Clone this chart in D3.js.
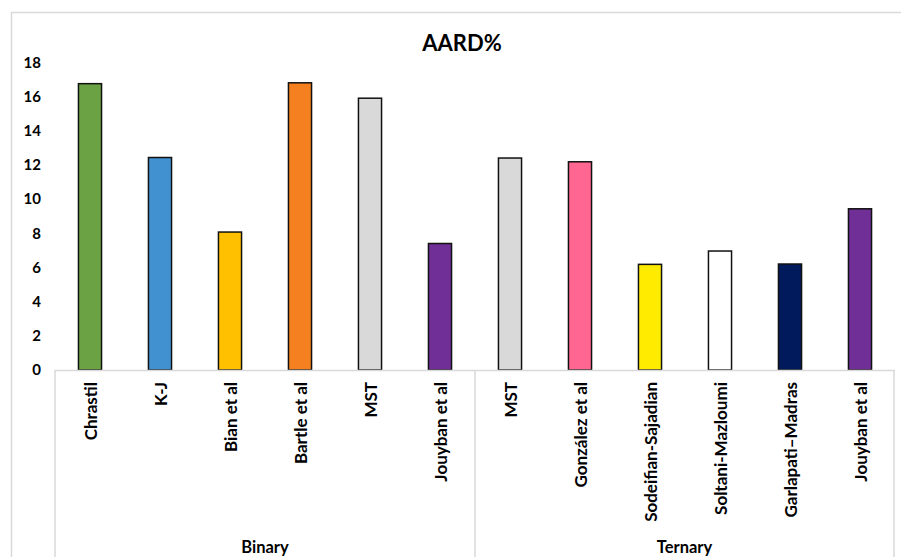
<!DOCTYPE html>
<html>
<head>
<meta charset="utf-8">
<script src="https://cdn.jsdelivr.net/npm/d3@7"></script>
<style>
  html, body { margin: 0; padding: 0; background: #fff; }
  svg { display: block; font-family: Lato, "Open Sans", sans-serif; }
</style>
</head>
<body>
<svg id="chart" width="901" height="557"></svg>
<script>
// AARD% of each correlation model, grouped by system type
const categories = ["Chrastil", "K-J", "Bian et al", "Bartle et al", "MST", "Jouyban et al",
                    "MST", "González et al", "Sodeifian-Sajadian", "Soltani-Mazloumi", "Garlapati–Madras", "Jouyban et al"];
const groups = ["Binary", "Binary", "Binary", "Binary", "Binary", "Binary",
                "Ternary", "Ternary", "Ternary", "Ternary", "Ternary", "Ternary"];
const aard = [16.75, 12.43, 8.07, 16.8, 15.9, 7.4,
              12.4, 12.18, 6.18, 6.96, 6.2, 9.43];
const barColors = ["#6aa244", "#4191d0", "#ffc000", "#f58020", "#d9d9d9", "#702f96",
                   "#d9d9d9", "#ff6792", "#ffeb00", "#ffffff", "#001a5c", "#702f96"];
const yTicks = [0, 2, 4, 6, 8, 10, 12, 14, 16, 18];

const svg = d3.select("#chart");
const plotLeft = 55, plotRight = 895, plotTop = 62.3, plotBottom = 370;

const idx = d3.range(categories.length);
const x = d3.scaleBand().domain(idx).range([plotLeft, plotRight]).paddingInner(0.67).paddingOuter(0.335);
const y = d3.scaleLinear().domain([0, 18]).range([plotBottom, plotTop]);

// outer chart frame
svg.append("rect")
  .attr("x", 11.5).attr("y", 12.5).attr("width", 960).attr("height", 600)
  .attr("fill", "none").attr("stroke", "#d9d9d9").attr("stroke-width", 1.5);

// title
svg.append("text")
  .attr("x", 462).attr("y", 51)
  .attr("text-anchor", "middle")
  .attr("font-size", 22).attr("font-weight", 700).attr("fill", "#000")
  .text("AARD%");

// y axis (labels only)
const yAxis = svg.append("g")
  .attr("transform", `translate(${plotLeft},0)`)
  .call(d3.axisLeft(y).tickValues(yTicks).tickSize(0).tickPadding(14));
yAxis.select(".domain").remove();
yAxis.selectAll("text")
  .attr("font-family", "Lato, 'Open Sans', sans-serif")
  .attr("font-size", 15).attr("font-weight", 700).attr("fill", "#000");

// bars
svg.append("g").selectAll("rect")
  .data(idx)
  .join("rect")
  .attr("x", i => x(i))
  .attr("y", i => y(aard[i]))
  .attr("width", x.bandwidth())
  .attr("height", i => y(0) - y(aard[i]))
  .attr("fill", i => barColors[i])
  .attr("stroke", "#111")
  .attr("stroke-width", 1.5);

// category axis line
svg.append("line")
  .attr("x1", plotLeft).attr("x2", plotRight).attr("y1", plotBottom + 0.5).attr("y2", plotBottom + 0.5)
  .attr("stroke", "#d9d9d9").attr("stroke-width", 1.5);

// category labels, rotated
svg.append("g").selectAll("text")
  .data(idx)
  .join("text")
  .attr("transform", i => `translate(${x(i) + x.bandwidth() / 2 + 7},382) rotate(-90)`)
  .attr("text-anchor", "end")
  .attr("font-size", 17).attr("font-weight", 700).attr("fill", "#000")
  .text(i => categories[i]);

// group dividers and group labels
const groupNames = Array.from(new Set(groups));
const half = x.step() * x.paddingInner() / 2;
const bounds = [plotLeft];
groupNames.forEach(g => {
  const members = idx.filter(i => groups[i] === g);
  bounds.push(x(members[members.length - 1]) + x.bandwidth() + half);
});
bounds[bounds.length - 1] = plotRight - 1;

svg.append("g").selectAll("line")
  .data(bounds)
  .join("line")
  .attr("x1", d => d).attr("x2", d => d)
  .attr("y1", plotBottom).attr("y2", 557)
  .attr("stroke", "#d9d9d9").attr("stroke-width", 1.5);

svg.append("g").selectAll("text")
  .data(groupNames)
  .join("text")
  .attr("x", (g, k) => (bounds[k] + bounds[k + 1]) / 2)
  .attr("y", 553)
  .attr("text-anchor", "middle")
  .attr("font-size", 16.5).attr("font-weight", 700).attr("fill", "#000")
  .text(g => g);
</script>
</body>
</html>
